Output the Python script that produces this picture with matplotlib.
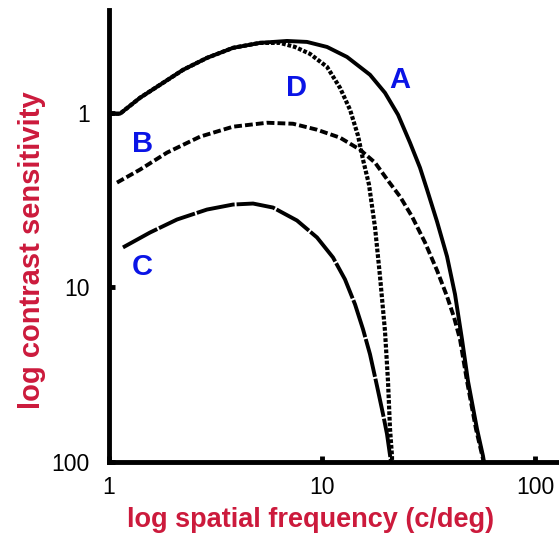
import matplotlib
matplotlib.use('Agg')
import matplotlib.pyplot as plt

plt.rcParams['font.family'] = ['Liberation Sans', 'DejaVu Sans']

# Curve A (solid): spatial frequency (c/deg) vs contrast value
freq_a = [1.01, 1.126, 1.189, 1.398, 1.735, 2.226, 2.884, 3.821, 5.115, 6.85, 8.50, 10.56, 13.10,
          16.80, 19.76, 22.75, 25.89, 28.84, 31.12, 34.67, 38.63, 42.12, 45.42, 48.47, 53.43, 57.00, 57.62]
sens_a = [1.013, 1.013, 0.961, 0.821, 0.692, 0.568, 0.485, 0.425, 0.398, 0.388, 0.393, 0.420, 0.479,
          0.606, 0.769, 1.027, 1.484, 2.063, 2.754, 4.196, 6.651, 10.96, 19.83, 34.45, 64.78, 92.4, 100]

# Curve D (dotted): follows A at low frequencies, then falls away early
freq_d = [1.01, 1.126, 1.189, 1.398, 1.735, 2.226, 2.884, 3.821, 5.115, 6.35, 7.47, 8.78, 10.56,
          12.15, 13.54, 14.76, 15.58, 16.62, 17.74, 18.72, 19.76, 20.41, 20.86, 21.31, 21.31]
sens_d = [1.013, 1.013, 0.961, 0.821, 0.692, 0.568, 0.485, 0.425, 0.398, 0.398, 0.420, 0.460, 0.546,
          0.720, 0.961, 1.353, 1.856, 2.579, 4.541, 8.65, 17.84, 34.45, 64.78, 92.4, 100]

# Curve B (dashed)
freq_b = [1.090, 1.398, 1.872, 2.675, 3.821, 5.518, 7.31, 9.475, 12.15, 15.08, 17.74, 20.41, 23.24,
          26.46, 30.45, 34.67, 38.63, 41.67, 44.45, 47.96, 52.84, 57.00, 57.3]
sens_b = [2.512, 2.117, 1.692, 1.371, 1.202, 1.141, 1.156, 1.251, 1.389, 1.627, 1.931, 2.447, 3.020,
          3.929, 5.533, 7.996, 11.26, 14.84, 19.83, 34.45, 64.78, 96.1, 100]

# Curve C (long dashes)
freq_c = [1.163, 1.558, 2.086, 2.884, 3.821, 4.745, 5.888, 7.63, 9.475, 11.26, 12.82, 14.29, 15.58,
          16.80, 18.13, 19.34, 20.19, 21.08]
sens_c = [5.906, 4.851, 4.087, 3.584, 3.355, 3.311, 3.491, 4.141, 5.179, 6.739, 9.00, 12.51, 17.38,
          24.15, 36.79, 53.18, 69.18, 100]

xtick_vals = [1, 10, 100]
ytick_vals = [1, 10, 100]
curve_names = ['A', 'B', 'C', 'D']

label_red = '#cc1a3c'
label_blue = '#0a14e6'

fig = plt.figure(figsize=(5.59, 5.39), dpi=100)
ax = fig.add_axes([0.195, 0.1429, 0.805, 0.8386])

ax.plot(freq_a, sens_a, color='black', lw=2.8, solid_capstyle='butt', solid_joinstyle='round')
ax.plot(freq_d, sens_d, color='black', lw=3.0, dashes=(0.9, 0.45), dash_capstyle='butt')
ax.plot(freq_b, sens_b, color='black', lw=2.8, dashes=(2.0, 0.8), dash_capstyle='butt')
ax.plot(freq_c, sens_c, color='black', lw=2.8, dashes=(10, 0.5), dash_capstyle='butt')

ax.set_xscale('log')
ax.set_yscale('log')
ax.set_xlim(1, 10 ** (450 / 213))
ax.set_ylim(100, 10 ** (-103 / 175))

ax.set_xticks(xtick_vals)
ax.set_xticklabels([str(v) for v in xtick_vals])
ax.set_yticks(ytick_vals)
ax.set_yticklabels([str(v) for v in ytick_vals])
ax.minorticks_off()
ax.tick_params(axis='both', direction='in', length=4, width=3.5, labelsize=16.5)
ax.tick_params(axis='x', pad=10)
ax.tick_params(axis='y', pad=14)

for side in ['top', 'right']:
    ax.spines[side].set_visible(False)
for side in ['left', 'bottom']:
    ax.spines[side].set_linewidth(3.5)

ax.set_xlabel('log spatial frequency (c/deg)', color=label_red, fontsize=19.5, fontweight='bold', labelpad=6)
ax.set_ylabel('log contrast sensitivity', color=label_red, fontsize=21, fontweight='bold', labelpad=4)
# labels sit a bit off-centre in the original
ax.xaxis.label.set_x(0.449)
ax.yaxis.label.set_y(0.469)

# curve letters
text_kw = dict(color=label_blue, fontsize=21, fontweight='bold', ha='center', va='center')
ax.text(23.2, 0.648, curve_names[0], **text_kw)
ax.text(1.44, 1.52, curve_names[1], **text_kw)
ax.text(1.44, 7.69, curve_names[2], **text_kw)
ax.text(7.63, 0.72, curve_names[3], **text_kw)

fig.savefig('out.png', dpi=100)
